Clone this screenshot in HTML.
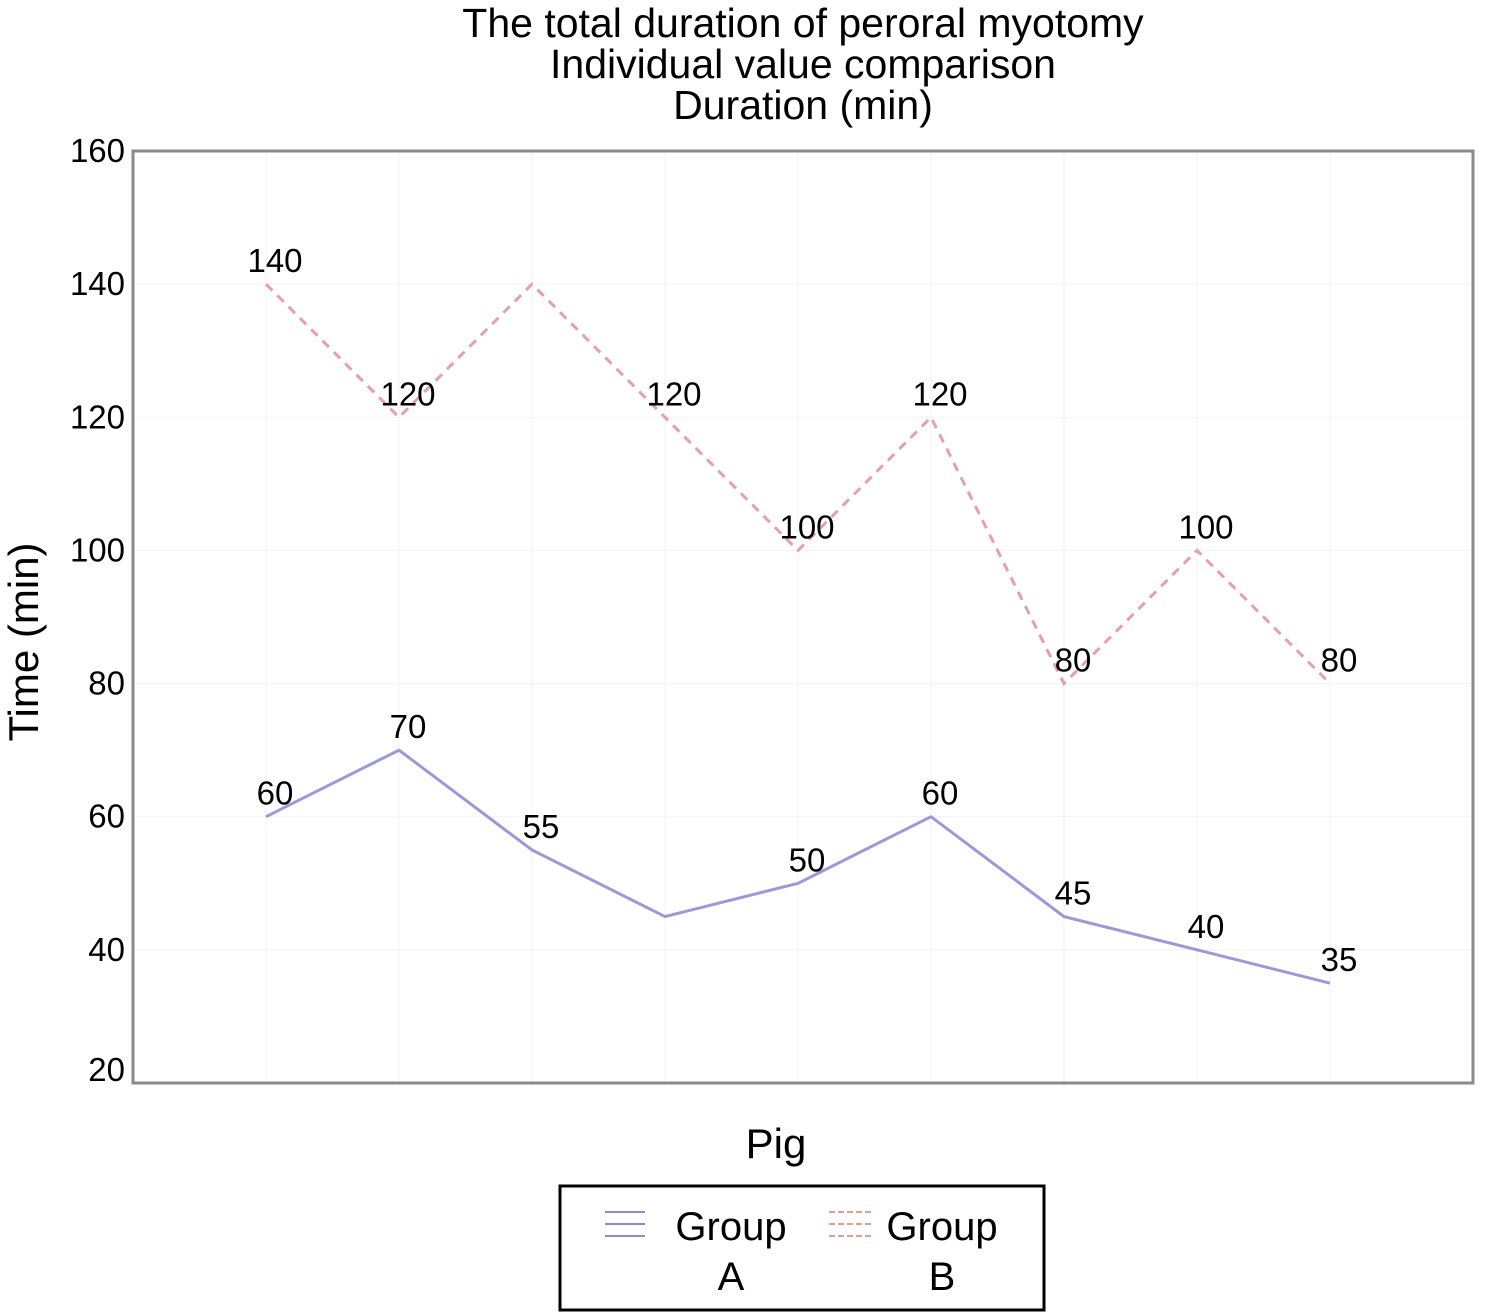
<!DOCTYPE html>
<html><head><meta charset="utf-8"><style>
html,body{margin:0;padding:0;background:#fff;}
svg{display:block;font-family:"Liberation Sans",Arial,sans-serif;}
</style></head><body>
<svg width="1486" height="1312" viewBox="0 0 1486 1312">
<g font-size="41" text-anchor="middle" fill="#000">
<text x="803" y="37">The total duration of peroral myotomy</text>
<text x="803" y="78">Individual value comparison</text>
<text x="803" y="119">Duration (min)</text>
</g>
<g id="grid"></g>
<g id="yaxis" font-size="33" text-anchor="end"></g>
<rect x="133" y="151" width="1340" height="932" fill="none" stroke="#8a8a8a" stroke-width="3"/>
<text transform="translate(38,642) rotate(-90)" font-size="42" text-anchor="middle">Time (min)</text>
<text x="776" y="1158" font-size="42" text-anchor="middle">Pig</text>
<g id="series"></g>
<g>
<rect x="560" y="1186" width="484" height="124" fill="#fff" stroke="#000" stroke-width="3"/>
<g stroke="#8a8ad0" stroke-width="2">
<line x1="605" y1="1212" x2="645" y2="1212"/><line x1="605" y1="1224" x2="645" y2="1224"/><line x1="605" y1="1236" x2="645" y2="1236"/>
</g>
<text x="731" y="1240" font-size="40" text-anchor="middle">Group</text>
<text x="731" y="1290" font-size="40" text-anchor="middle">A</text>
<g stroke="#e0a090" stroke-width="2" stroke-dasharray="6 3">
<line x1="829" y1="1212" x2="871" y2="1212"/><line x1="829" y1="1224" x2="871" y2="1224"/><line x1="829" y1="1236" x2="871" y2="1236"/>
</g>
<text x="942" y="1240" font-size="40" text-anchor="middle">Group</text>
<text x="942" y="1290" font-size="40" text-anchor="middle">B</text>
</g>
</svg>
<script>
const yTicks = [20,40,60,80,100,120,140,160];
const pigs = [1,2,3,4,5,6,7,8,9];
const groupA = [60,70,55,45,50,60,45,40,35];
const groupB = [140,120,140,120,100,120,80,100,80];
const showA = [true,true,true,false,true,true,true,true,true];
const showB = [true,true,false,true,true,true,true,true,true];
const NS='http://www.w3.org/2000/svg';
function y(v){return 1083-(v-20)*(932/140);}
function x(i){return 266+(i)*133;}
const grid=document.getElementById('grid'), yax=document.getElementById('yaxis'), ser=document.getElementById('series');
function mk(tag,attrs,parent){const e=document.createElementNS(NS,tag);for(const k in attrs)e.setAttribute(k,attrs[k]);parent.appendChild(e);return e;}
yTicks.forEach(t=>{
  const g=mk('line',{x1:133,x2:1473,y1:y(t),y2:y(t),stroke:'#f2f2f2','stroke-width':1},grid);
  
  
  const tx=mk('text',{x:125,y:y(t)+ (t===20?-2:11)},yax);
  tx.textContent=t;
  
  
});
pigs.forEach((p,i)=>{
  const g=mk('line',{x1:x(i),x2:x(i),y1:151,y2:1083,stroke:'#f2f2f2','stroke-width':1},grid);
  
  
});
function draw(vals,show,color,dash,name){
  const pts=vals.map((v,i)=>x(i)+','+y(v)).join(' ');
  const pl=mk('polyline',{points:pts,fill:'none',stroke:color,'stroke-width':3},ser);
  if(dash)pl.setAttribute('stroke-dasharray',dash);
  
  
  vals.forEach((v,i)=>{
    if(!show[i])return;
    const t=mk('text',{x:x(i)+9,y:y(v)-12,'font-size':33,'text-anchor':'middle'},ser);
    t.textContent=v;
    
    
  });
}
draw(groupB,showB,'#e6a0ac','9 7','group-b');
draw(groupA,showA,'#9a9ad8',null,'group-a');
</script>
</body></html>
